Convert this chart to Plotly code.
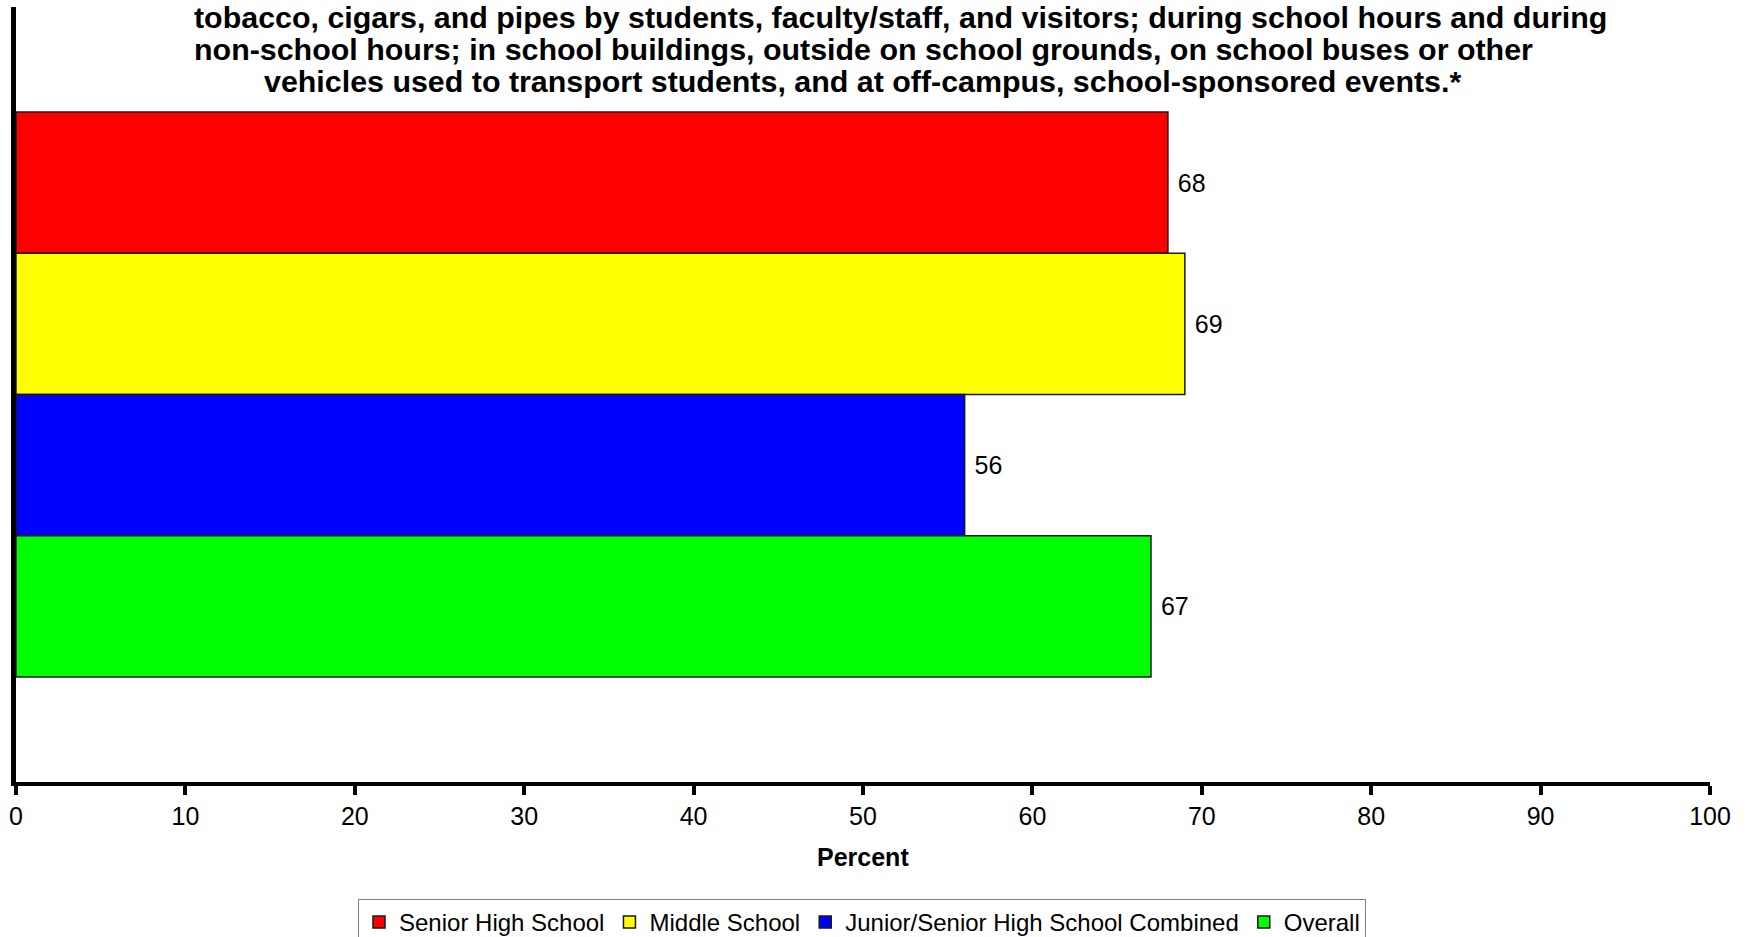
import plotly.graph_objects as go

# Data
series_names = ["Senior High School", "Middle School", "Junior/Senior High School Combined", "Overall"]
series_values = [68, 69, 56, 67]
series_colors = ["#FF0000", "#FFFF00", "#0000FF", "#00FF00"]
category = [""]

title_lines = [
    "tobacco, cigars, and pipes by students, faculty/staff, and visitors; during school hours and during",
    "non-school hours; in school buildings, outside on school grounds, on school buses or other",
    "vehicles used to transport students, and at off-campus, school-sponsored events.*",
]
x_tick_vals = list(range(0, 101, 10))

FONT = "Liberation Sans, Arial, sans-serif"

fig = go.Figure()
for name, val, col in zip(series_names, series_values, series_colors):
    fig.add_trace(go.Bar(
        name=name,
        y=category,
        x=[val],
        orientation="h",
        marker=dict(color=col, line=dict(color="#1a1a1a", width=1.5)),
        texttemplate=" %{x}",
        textposition="outside",
        textfont=dict(family=FONT, size=25, color="black"),
        cliponaxis=False,
    ))

W, H = 1747, 937
# plot area in page pixels: left 16, right 1710, top 7, bottom 782
ml, mt = 16, 7
mr = W - 1710
mb = H - 782
plot_h = H - mt - mb
plot_w = W - ml - mr

def py(px):
    return (H - mb - px) / plot_h

def pxx(px):
    return (px - ml) / plot_w

annotations = []
line_centers_x = [900, 863, 862]
line_centers_y = [17, 49, 81]
for txt, cx, cy in zip(title_lines, line_centers_x, line_centers_y):
    annotations.append(dict(
        text="<b>" + txt + "</b>", xref="paper", yref="paper",
        x=pxx(cx), y=py(cy), xanchor="center", yanchor="middle",
        showarrow=False, font=dict(family=FONT, size=30.4, color="black"),
    ))
annotations.append(dict(
    text="<b>Percent</b>", xref="paper", yref="paper",
    x=pxx(863), y=py(857), xanchor="center", yanchor="middle",
    showarrow=False, font=dict(family=FONT, size=25, color="black"),
))

fig.update_layout(
    width=W, height=H,
    margin=dict(l=ml, r=mr, t=mt, b=mb, pad=0, autoexpand=False),
    paper_bgcolor="white", plot_bgcolor="white",
    barmode="group", bargap=0.271, bargroupgap=0,
    showlegend=True,
    legend=dict(
        orientation="h", x=pxx(862), xanchor="center", y=py(899), yanchor="top",
        bordercolor="#7f7f7f", borderwidth=1, bgcolor="white",
        font=dict(family=FONT, size=24, color="black"),
        traceorder="normal",
    ),
    annotations=annotations,
    font=dict(family=FONT, color="black"),
)
fig.update_xaxes(
    range=[0, 100], tickvals=x_tick_vals, ticks="outside", ticklen=9, tickwidth=4,
    tickcolor="black", showline=True, linewidth=4, linecolor="black", automargin=False,
    showgrid=False, zeroline=False, tickfont=dict(family=FONT, size=25, color="black"),
)
fig.update_yaxes(
    type="category", autorange="reversed", showticklabels=False, ticks="", automargin=False,
    showline=True, linewidth=5, linecolor="black", showgrid=False, zeroline=False,
)

fig.write_html(
    "out.html",
    config={"displayModeBar": False},
    post_script="document.body.style.margin='0';document.body.style.padding='0';",
)
